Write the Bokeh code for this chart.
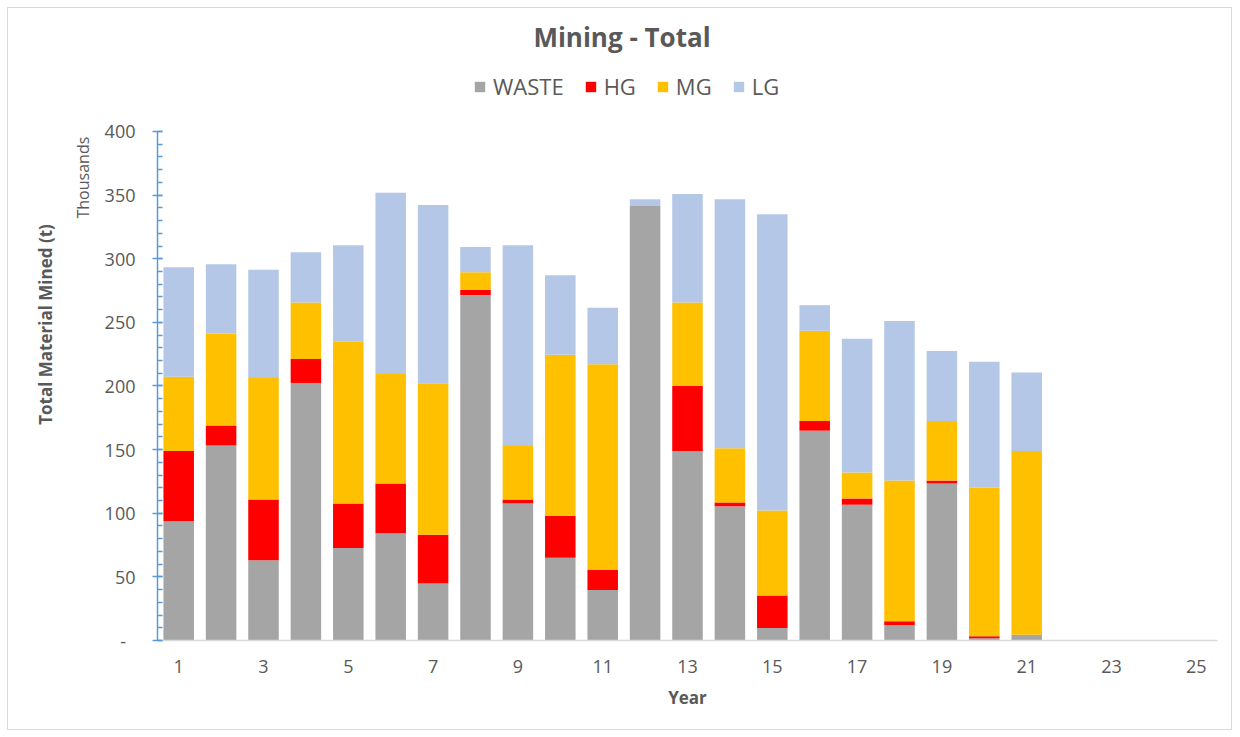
from bokeh.plotting import figure
from bokeh.models import (ColumnDataSource, FixedTicker, Legend, LegendItem, Range1d,
                          LinearAxis, Title, Label)
from bokeh.embed import file_html
from bokeh.resources import INLINE

# ---- data (thousand tonnes) ----
years = list(range(1, 22))
waste = [93.9, 153.2, 63.0, 202.4, 72.7, 84.2, 44.7, 271.4, 107.7, 65.1, 39.7,
         341.4, 149.0, 105.4, 9.9, 164.9, 106.7, 12.1, 123.4, 1.8, 4.6]
hg = [55.1, 15.7, 47.8, 18.8, 35.0, 39.2, 38.4, 4.1, 3.1, 32.9, 15.7,
      0.0, 51.0, 3.1, 25.4, 7.6, 4.9, 3.1, 2.3, 1.6, 0.0]
mg = [58.3, 72.4, 95.5, 44.4, 127.1, 86.0, 119.0, 13.9, 42.1, 126.6, 161.6,
      0.0, 65.6, 42.6, 66.9, 70.9, 20.4, 110.5, 46.8, 116.9, 144.4]
lg = [86.0, 54.4, 85.0, 39.5, 75.8, 142.5, 140.1, 19.9, 157.7, 62.5, 44.4,
      5.3, 85.2, 195.6, 232.7, 20.1, 105.1, 125.3, 55.0, 98.8, 61.7]
series = ["WASTE", "HG", "MG", "LG"]
colors = ["#A5A5A5", "#FF0000", "#FFC000", "#B4C7E7"]
x_ticks = list(range(1, 26, 2))
y_ticks = list(range(0, 401, 50))
y_minor = list(range(0, 401, 10))

FONT = "Open Sans"
TXT = "#595959"

src = ColumnDataSource(dict(year=years, WASTE=waste, HG=hg, MG=mg, LG=lg))

# frame reaches the top of the canvas so the title and legend can sit inside it;
# the y axis line itself is bounded to 0..400
p = figure(width=1225, height=723, x_range=Range1d(0.5, 25.5), y_range=Range1d(0, 496.66),
           output_backend="svg", toolbar_location=None,
           min_border_left=149, min_border_right=16, min_border_top=0, min_border_bottom=91)
p.styles = {"border": "1px solid #D9D9D9", "margin-left": "7px", "margin-top": "7px"}

renderers = p.vbar_stack(series, x="year", width=0.72, color=colors, source=src, line_color=None)

p.xgrid.visible = False
p.ygrid.visible = False
p.outline_line_color = None

# x axis
xa = p.xaxis[0]
xa.ticker = FixedTicker(ticks=x_ticks)
xa.axis_line_color = "#D9D9D9"
xa.axis_line_width = 1.5
xa.major_tick_line_color = None
xa.minor_tick_line_color = None
xa.major_label_standoff = 13
xa.major_label_text_font = FONT
xa.major_label_text_font_size = "18px"
xa.major_label_text_color = TXT
xa.axis_label = "Year"
xa.axis_label_text_font = FONT
xa.axis_label_text_font_size = "17px"
xa.axis_label_text_font_style = "bold"
xa.axis_label_text_color = TXT
xa.axis_label_standoff = 10

# y axis (ticks and labels)
ya = p.yaxis[0]
ya.bounds = (0, 400)
ya.ticker = FixedTicker(ticks=y_ticks, minor_ticks=y_minor)
ya.axis_line_color = "#5B9BD5"
ya.axis_line_width = 1.5
ya.major_tick_line_color = "#5B9BD5"
ya.major_tick_line_width = 1.5
ya.major_tick_in = 5
ya.major_tick_out = 5
ya.minor_tick_line_color = "#5B9BD5"
ya.minor_tick_line_width = 1.5
ya.minor_tick_in = 5
ya.minor_tick_out = 0
ya.major_label_standoff = 17
ya.major_label_overrides = {0: "-\u00a0\u00a0"}
ya.major_label_text_font = FONT
ya.major_label_text_font_size = "18px"
ya.major_label_text_color = TXT

# display-unit label
thousands = Title(text="Thousands", align="left", offset=422, standoff=16,
                  text_font=FONT, text_font_size="16px", text_font_style="normal",
                  text_color=TXT)
p.add_layout(thousands, "left")

# outer axis carrying only the axis title
ya2 = LinearAxis(ticker=FixedTicker(ticks=[]), bounds=(0, 400), axis_line_color=None,
                 major_tick_line_color=None, minor_tick_line_color=None,
                 major_tick_out=0, minor_tick_out=0, major_label_text_font_size="0px",
                 axis_label="Total Material Mined (t)", axis_label_standoff=5,
                 axis_label_text_font=FONT, axis_label_text_font_size="17px",
                 axis_label_text_font_style="bold", axis_label_text_color=TXT)
p.add_layout(ya2, "left")

# chart title
p.add_layout(Label(x=11.455, y=474.0, text="Mining - Total", text_align="center",
                   text_baseline="middle", text_font=FONT, text_font_size="26px",
                   text_font_style="bold", text_color=TXT))

legend = Legend(items=[LegendItem(label=s, renderers=[r]) for s, r in zip(series, renderers)],
                orientation="horizontal", location=(316, 539),
                padding=0, margin=0, spacing=20, label_standoff=7,
                glyph_width=13, glyph_height=13,
                label_text_font=FONT, label_text_font_size="22px", label_text_color=TXT,
                border_line_color=None, background_fill_alpha=0)
p.add_layout(legend)

open("out.html", "w").write(file_html(p, INLINE))
